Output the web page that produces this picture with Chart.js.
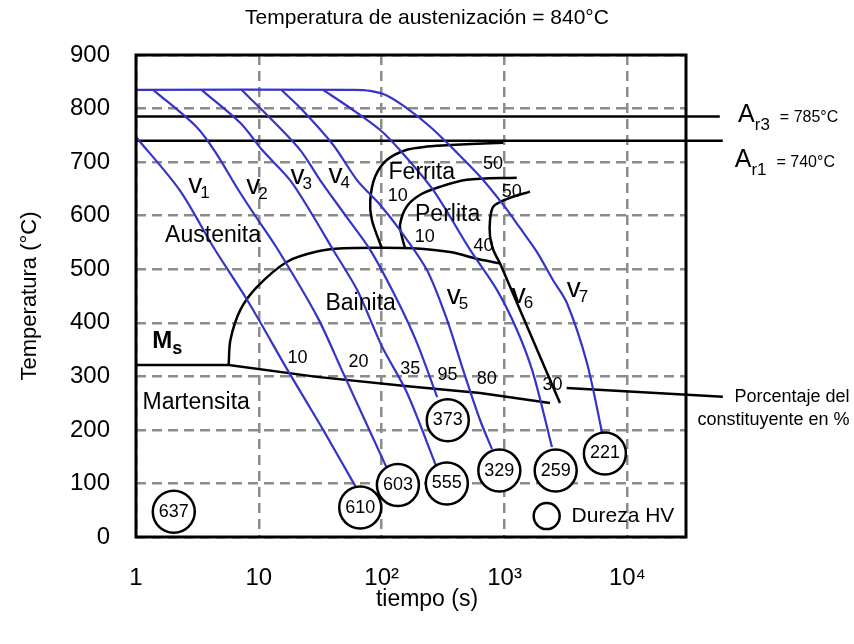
<!DOCTYPE html>
<html>
<head>
<meta charset="utf-8">
<script src="https://cdn.jsdelivr.net/npm/chart.js@4/dist/chart.umd.min.js"></script>
<style>
  html, body { margin: 0; padding: 0; background: #fff; }
</style>
</head>
<body>
<canvas id="cct" width="854" height="644"></canvas>
<script>
const family = '"Liberation Sans", Arial, sans-serif';

// time axis
const xTickValues = [1, 10, 100, 1000, 10000];
const xTickLabels = ['1', '10', '10²', '10³', '10⁴'];

// cooling curves v1..v7, points are [time (s), temperature (°C)]
const v1 = [[1, 747], [2.26, 648], [4.27, 541], [8.06, 442], [17.1, 312], [23.9, 256], [33.4, 200], [61, 95]];
const v2 = [[1.38, 835], [3.10, 766], [4.51, 716], [6.56, 654], [9.02, 605], [13.9, 541], [29.9, 411], [48.6, 306], [109, 131]];
const v3 = [[3.41, 835], [7.08, 773], [10.7, 722], [18.0, 666], [26.7, 605], [40.3, 536], [63.2, 461], [101, 355], [161, 269], [277, 133]];
const v4 = [[7.21, 835], [12.4, 782], [21.8, 722], [31.6, 666], [50.5, 601], [80.6, 536], [134, 442], [194, 362], [283, 261]];
const v5 = [[15.2, 835], [21.8, 801], [40.3, 732], [63.2, 666], [97.2, 620], [141, 573], [234, 498], [341, 405], [460, 312], [633, 218], [791, 164]];
const v6 = [[33.3, 835], [55.4, 801], [97.2, 760], [141, 722], [262, 648], [525, 536], [869, 461], [1265, 386], [1707, 306], [2432, 168]];
const v7 = [[1, 835], [59.8, 835], [80.6, 833], [109, 825], [155, 803], [248, 766], [396, 721], [632, 673], [1009, 616], [1336, 577], [1838, 532], [2477, 480], [3220, 437], [4688, 325], [6324, 187]];
const coolingCurves = [v1, v2, v3, v4, v5, v6, v7];

// transformation lines
const bainiteStart = [[5.68, 321], [5.87, 368], [7.07, 424], [9.67, 467], [17.0, 514], [29.7, 533], [48.9, 539], [97.2, 540], [180, 539], [360, 532], [632, 518], [918, 511]];
const msLine = [[1, 321], [5.68, 321], [29.7, 299], [171, 281], [632, 269], [2344, 250]];
const ferriteStart = [[100.4, 539], [83.2, 592], [80.7, 629], [88.5, 673], [110, 704], [160, 723], [233, 729], [361, 732], [977, 736]];
const pearliteStart = [[155, 539], [146, 561], [141, 583], [160, 617], [206, 639], [299, 654], [493, 667], [1257, 671]];
const pearliteEnd = [[1611, 645], [1042, 631], [811, 617], [762, 592], [762, 561], [811, 536], [918, 511]];
const bainiteEnd = [[918, 511], [2826, 250]];

// critical temperatures
const ar3 = 785;
const ar1 = 740;
const ar3Line = [[1, ar3], [56500, ar3]];
const ar1Line = [[1, ar1], [59800, ar1]];
const noteLeader = [[3206, 278], [59800, 262]];

// hardness HV at the end of each curve
const hardness = [637, 610, 603, 555, 373, 329, 259, 221];
const hardnessAt = [[2.03, 47], [66.9, 55], [135.5, 97], [339, 100], [345, 218], [907, 124], [2608, 124], [6561, 156]];
const hardnessKeyAt = [2203, 39];
const hardnessKeyText = 'Dureza HV';
const hardnessKeyTextAt = [3516, 39];

// text inside the diagram
const regionNames = ['Austenita', 'Ferrita', 'Perlita', 'Bainita', 'Martensita'];
const regionAt = [[4.24, 562], [212, 681], [344, 601], [67.4, 436], [3.09, 250]];
const pctNames = ['50', '50', '10', '10', '40', '10', '20', '35', '95', '80', '30'];
const pctAt = [[807, 696], [1145, 645], [135, 637], [224, 561], [673, 543], [20.6, 335], [64.8, 326], [171, 314], [344, 303], [716, 295], [2455, 284]];
const curveNames = ['1', '2', '3', '4', '5', '6', '7'];
const curveNameAt = [[2.66, 657], [7.91, 654], [18.1, 673], [36.9, 676], [339, 449], [1145, 452], [3206, 463]];
const msAt = [1.355, 365];
const ar3LabelAt = [79600, 788];
const ar1LabelAt = [74800, 704];
const noteLines = ['Porcentaje del', 'constituyente en %'];
const noteAt = [[644000, 262], [644000, 218]];

const titleText = 'Temperatura de austenización = 840°C';

const toXY = pts => pts.map(([t, T]) => ({ x: t, y: T }));

function lineSet(pts, color, width, tension, clip) {
    return {
        type: 'scatter',
        data: toXY(pts),
        showLine: true,
        borderColor: color,
        borderWidth: width,
        pointRadius: 0,
        tension: tension,
        clip: clip === false ? false : undefined,
        order: 2
    };
}

const blue = '#3434c8';
const datasets = [
    {
        data: toXY(hardnessAt),
        pointRadius: 21,
        pointBackgroundColor: '#fff',
        pointBorderColor: '#000',
        pointBorderWidth: 2.5,
        order: 0
    },
    {
        data: toXY([hardnessKeyAt]),
        pointRadius: 13,
        pointBackgroundColor: '#fff',
        pointBorderColor: '#000',
        pointBorderWidth: 2.5,
        order: 0
    }
];
coolingCurves.forEach(c => datasets.push(lineSet(c, blue, 2.2, 0.3)));
datasets.push(lineSet(bainiteStart, '#000', 2.5, 0.3));
datasets.push(lineSet(msLine, '#000', 2.5, 0));
datasets.push(lineSet(ferriteStart, '#000', 2.5, 0.3));
datasets.push(lineSet(pearliteStart, '#000', 2.5, 0.3));
datasets.push(lineSet(pearliteEnd, '#000', 2.5, 0.3));
datasets.push(lineSet(bainiteEnd, '#000', 2.5, 0));
datasets.push(lineSet(ar3Line, '#000', 2.5, 0, false));
datasets.push(lineSet(ar1Line, '#000', 2.5, 0, false));
datasets.push(lineSet(noteLeader, '#000', 2.5, 0, false));

// draws "main" followed by a lowered subscript and an optional tail
function drawParts(ctx, left, mid, parts) {
    let xPos = left;
    for (const [text, size, bold, dy, dx] of parts) {
        xPos += dx || 0;
        ctx.font = (bold ? 'bold ' : '') + size + 'px ' + family;
        ctx.fillText(text, xPos, mid + dy);
        xPos += ctx.measureText(text).width;
    }
}

const overlay = {
    id: 'overlay',
    afterDraw(chart) {
        const { ctx, chartArea: a, scales: { x, y } } = chart;
        const px = t => x.getPixelForValue(t);
        const py = T => y.getPixelForValue(T);
        ctx.save();

        // frame
        ctx.strokeStyle = '#000';
        ctx.lineWidth = 3;
        ctx.strokeRect(a.left, a.top, a.right - a.left, a.bottom - a.top);

        ctx.fillStyle = '#000';
        ctx.textBaseline = 'middle';
        ctx.textAlign = 'center';

        ctx.font = '21px ' + family;
        ctx.fillText(titleText, chart.width / 2, 18);
        ctx.font = '23px ' + family;
        ctx.fillText('tiempo (s)', 427, 600);

        ctx.font = '23px ' + family;
        regionNames.forEach((s, i) => ctx.fillText(s, px(regionAt[i][0]), py(regionAt[i][1])));

        ctx.font = '18px ' + family;
        pctNames.forEach((s, i) => ctx.fillText(s, px(pctAt[i][0]), py(pctAt[i][1])));
        hardness.forEach((h, i) => ctx.fillText(String(h), px(hardnessAt[i][0]), py(hardnessAt[i][1])));

        ctx.textAlign = 'left';
        ctx.font = '21px ' + family;
        ctx.fillText(hardnessKeyText, px(hardnessKeyTextAt[0]), py(hardnessKeyTextAt[1]));

        curveNames.forEach((n, i) => {
            drawParts(ctx, px(curveNameAt[i][0]), py(curveNameAt[i][1]),
                [['v', 28, false, 0], [n, 17, false, 8, -2]]);
        });
        drawParts(ctx, px(msAt[0]), py(msAt[1]), [['M', 24, true, 0], ['s', 18, true, 8]]);
        drawParts(ctx, px(ar3LabelAt[0]), py(ar3LabelAt[1]),
            [['A', 25, false, 0], ['r3', 17, false, 10], ['= ' + ar3 + '°C', 16, false, 3, 10]]);
        drawParts(ctx, px(ar1LabelAt[0]), py(ar1LabelAt[1]),
            [['A', 25, false, 0], ['r1', 17, false, 10], ['= ' + ar1 + '°C', 16, false, 3, 10]]);

        ctx.textAlign = 'right';
        ctx.font = '18px ' + family;
        noteLines.forEach((s, i) => ctx.fillText(s, px(noteAt[i][0]), py(noteAt[i][1])));

        ctx.restore();
    }
};

Chart.defaults.font.family = family;
Chart.defaults.color = '#000';

new Chart(document.getElementById('cct'), {
    type: 'scatter',
    data: { datasets: datasets },
    plugins: [overlay],
    options: {
        responsive: false,
        animation: false,
        devicePixelRatio: 1,
        layout: { padding: { top: 55, right: 168, left: 0, bottom: 0 } },
        plugins: { legend: { display: false }, tooltip: { enabled: false } },
        scales: {
            x: {
                type: 'logarithmic',
                min: 1,
                max: 30000,
                afterBuildTicks: s => { s.ticks = xTickValues.map(v => ({ value: v })); },
                afterFit: s => { s.height = 107; },
                ticks: {
                    autoSkip: false,
                    maxRotation: 0,
                    padding: 27,
                    font: { size: 24 },
                    callback: v => xTickLabels[xTickValues.indexOf(v)]
                },
                grid: { color: '#8c8c8c', lineWidth: 2.5, drawTicks: false },
                border: { display: false, dash: [10, 6] }
            },
            y: {
                min: 0,
                max: 900,
                afterFit: s => { s.width = 136; },
                ticks: { stepSize: 100, padding: 26, font: { size: 24 } },
                grid: { color: '#8c8c8c', lineWidth: 2.5, drawTicks: false },
                border: { display: false, dash: [10, 6] },
                title: {
                    display: true,
                    text: 'Temperatura (°C)',
                    font: { size: 22 },
                    padding: { top: 17, bottom: 0 }
                }
            }
        }
    }
});
</script>
</body>
</html>
